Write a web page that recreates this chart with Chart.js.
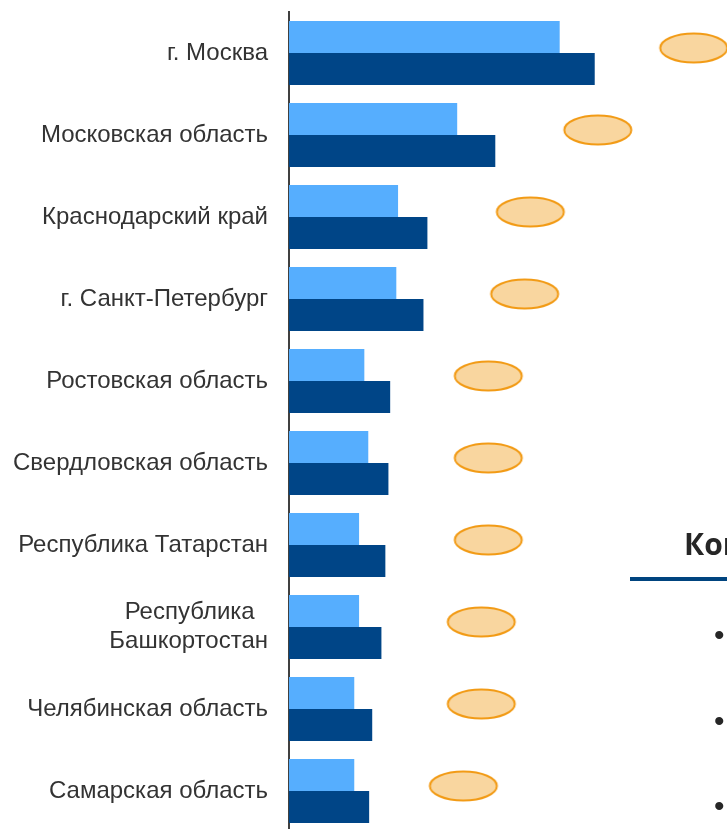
<!DOCTYPE html>
<html lang="ru">
<head>
<meta charset="utf-8">
<title>Регионы</title>
<script src="https://cdn.jsdelivr.net/npm/chart.js@4/dist/chart.umd.min.js"></script>
<style>
    html, body { margin: 0; padding: 0; background: #fff; overflow: hidden; }
    #wrap { position: relative; width: 727px; height: 832px; }
    #chart { position: absolute; left: 0; top: 0; }
    .side-title { position: absolute; left: 684px; top: 529px; font: bold 30px "Open Sans", sans-serif; line-height: 30px; color: #262626; white-space: nowrap; }
    .side-rule { position: absolute; left: 630px; top: 577px; width: 100px; height: 4px; background: #00447f; }
    .bullet { position: absolute; left: 714px; font: 30px "Liberation Sans", Arial, sans-serif; line-height: 30px; color: #262626; }
</style>
</head>
<body>
<div id="wrap">
    <canvas id="chart" width="727" height="832"></canvas>
    <div class="side-title">Комментарии</div>
    <div class="side-rule"></div>
    <div class="bullet" style="top:620px">•</div>
    <div class="bullet" style="top:706px">•</div>
    <div class="bullet" style="top:791px">•</div>
</div>
<script>
const regions = [
    'г. Москва',
    'Московская область',
    'Краснодарский край',
    'г. Санкт-Петербург',
    'Ростовская область',
    'Свердловская область',
    'Республика Татарстан',
    ['Республика\u00A0\u00A0', 'Башкортостан'],
    'Челябинская область',
    'Самарская область'
];

// lighter bars (previous period) and darker bars (current period)
const previousValues = [61.8, 38.4, 24.9, 24.5, 17.2, 18.1, 16.0, 16.0, 14.9, 14.9];
const currentValues = [69.8, 47.1, 31.6, 30.7, 23.1, 22.7, 22.0, 21.1, 19.0, 18.3];

// where the (empty) label bubbles sit on the value axis
const bubblePositions = [92.4, 70.5, 55.1, 53.8, 45.5, 45.5, 45.5, 43.9, 43.9, 39.8];

const axisMax = 100;

function makeBubble() {
    const c = document.createElement('canvas');
    c.width = 74;
    c.height = 42;
    const ctx = c.getContext('2d');
    ctx.beginPath();
    ctx.ellipse(37, 16, 33.5, 14.5, 0, 0, Math.PI * 2);
    ctx.fillStyle = '#f9d69f';
    ctx.fill();
    ctx.lineWidth = 2;
    ctx.strokeStyle = '#f29b16';
    ctx.stroke();
    return c;
}

const bubble = makeBubble();

new Chart(document.getElementById('chart'), {
    type: 'bar',
    data: {
        labels: regions,
        datasets: [
            {
                label: 'Предыдущий период',
                data: previousValues,
                backgroundColor: '#56aefe',
                categoryPercentage: 0.78,
                barPercentage: 1.0
            },
            {
                label: 'Текущий период',
                data: currentValues,
                backgroundColor: '#004587',
                categoryPercentage: 0.78,
                barPercentage: 1.0
            },
            {
                type: 'line',
                indexAxis: 'y',
                label: 'Метки',
                data: bubblePositions,
                showLine: false,
                pointStyle: bubble,
                pointRadius: 12,
                clip: false
            }
        ]
    },
    options: {
        indexAxis: 'y',
        animation: false,
        responsive: false,
        events: [],
        layout: { autoPadding: false, padding: { top: 12, left: 0, right: 0, bottom: 0 } },
        scales: {
            x: {
                display: false,
                min: 0,
                max: axisMax
            },
            y: {
                grid: { display: false, drawTicks: false },
                border: { display: true, color: '#404040', width: 2 },
                afterFit: scale => {
                    scale.width = 289;
                    scale.paddingTop = 0;
                    scale.paddingBottom = 0;
                },
                ticks: {
                    color: '#333',
                    padding: 21,
                    font: { family: '"Liberation Sans", Arial, sans-serif', size: 24, lineHeight: 1.2 }
                }
            }
        },
        plugins: {
            legend: { display: false },
            tooltip: { enabled: false }
        }
    }
});
</script>
</body>
</html>
